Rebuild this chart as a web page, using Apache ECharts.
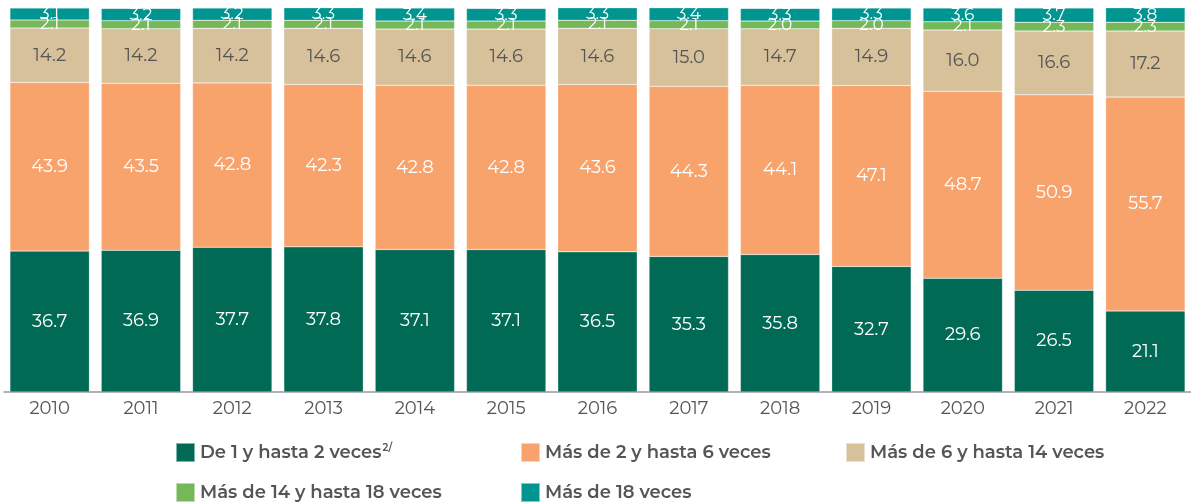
<!DOCTYPE html>
<html>
<head>
<meta charset="utf-8">
<script src="https://cdn.jsdelivr.net/npm/echarts@6/dist/echarts.min.js"></script>
<style>
  html, body { margin: 0; padding: 0; background: #fff; }
  #chart { width: 1191px; height: 504px; }
</style>
</head>
<body>
<div id="chart"></div>
<script>
  const years = ['2010', '2011', '2012', '2013', '2014', '2015', '2016', '2017', '2018', '2019', '2020', '2021', '2022']
  const de1a2 = [36.7, 36.9, 37.7, 37.8, 37.1, 37.1, 36.5, 35.3, 35.8, 32.7, 29.6, 26.5, 21.1]
  const de2a6 = [43.9, 43.5, 42.8, 42.3, 42.8, 42.8, 43.6, 44.3, 44.1, 47.1, 48.7, 50.9, 55.7]
  const de6a14 = [14.2, 14.2, 14.2, 14.6, 14.6, 14.6, 14.6, 15.0, 14.7, 14.9, 16.0, 16.6, 17.2]
  const de14a18 = [2.1, 2.1, 2.1, 2.1, 2.1, 2.1, 2.1, 2.1, 2.0, 2.0, 2.1, 2.3, 2.3]
  const mas18 = [3.1, 3.2, 3.2, 3.3, 3.4, 3.3, 3.3, 3.4, 3.3, 3.3, 3.6, 3.7, 3.8]

  const names = ['De 1 y hasta 2 veces', 'Más de 2 y hasta 6 veces', 'Más de 6 y hasta 14 veces',
    'Más de 14 y hasta 18 veces', 'Más de 18 veces']
  const colors = ['#006a54', '#f8a26c', '#d6c19b', '#76b75a', '#009590']
  const labelColors = ['#fff', '#fff', '#555', '#fff', '#fff']
  const values = [de1a2, de2a6, de6a14, de14a18, mas18]

  const font = 'Montserrat, "Open Sans", sans-serif'

  let chart = echarts.init(document.getElementById('chart'))

  // leyenda en dos filas, cada elemento colocado a mano
  const legendPos = [[175, 442], [520, 442], [845, 442], [175, 482], [520, 482]]
  const legends = names.map((n, i) => ({
    data: [n],
    left: legendPos[i][0],
    top: legendPos[i][1],
    padding: 0,
    itemWidth: 19,
    itemHeight: 19,
    itemGap: 8,
    icon: 'rect',
    selectedMode: false,
    formatter: i === 0 ? '{a|' + n + '}{s|2/}' : n,
    textStyle: {
      color: '#555',
      fontSize: 18,
      fontWeight: 600,
      fontFamily: font,
      rich: {
        a: { color: '#555', fontSize: 18, fontWeight: 600, fontFamily: font },
        s: { color: '#555', fontSize: 10, fontWeight: 600, fontFamily: font, verticalAlign: 'top', padding: [0, 0, 9, 1] }
      }
    }
  }))

  chart.setOption({
    animation: false,
    legend: legends,
    grid: { left: 4, right: -3, top: 8, bottom: 112 },
    xAxis: {
      type: 'category',
      data: years,
      axisLine: { lineStyle: { color: '#999', width: 1.5 } },
      axisTick: { show: false },
      axisLabel: { color: '#555', fontSize: 18, fontFamily: font, margin: 8 }
    },
    yAxis: {
      type: 'value',
      min: 0,
      max: 100,
      show: false,
      splitLine: { show: false }
    },
    series: names.map((n, i) => ({
      name: n,
      type: 'bar',
      stack: 'total',
      barWidth: '87%',
      data: values[i],
      itemStyle: { color: colors[i], borderColor: 'rgba(255,255,255,0.5)', borderWidth: 0.5 },
      label: {
        show: true,
        position: 'inside',
        color: labelColors[i],
        fontSize: i >= 3 ? 17 : 18,
        fontFamily: font,
        formatter: p => p.value.toFixed(1)
      }
    }))
  })
</script>
</body>
</html>
